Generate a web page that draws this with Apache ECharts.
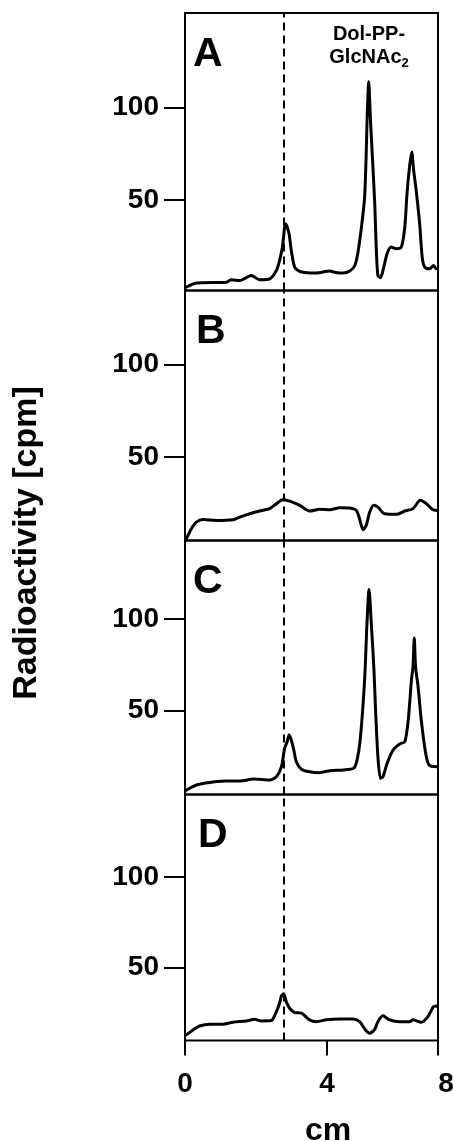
<!DOCTYPE html>
<html>
<head>
<meta charset="utf-8">
<title>Radioactivity scans</title>
<script src="https://cdn.jsdelivr.net/npm/echarts@6/dist/echarts.min.js"></script>
<style>
  html, body { margin: 0; padding: 0; background: #fff; }
  #chart { width: 453px; height: 1141px; }
</style>
</head>
<body>
<div id="chart"></div>
<script>
// Panel letters
const panels = ["A", "B", "C", "D"];

// Scan positions (cm, plot scale) and counts for each panel
const posA = [0, 0.04, 0.36, 1.31, 1.46, 1.73, 2.10, 2.36, 2.68, 2.89, 2.99, 3.08, 3.15, 3.18, 3.29, 3.36, 3.47, 3.63, 4.15, 4.58, 4.73, 5.0, 5.21, 5.37, 5.47, 5.58, 5.68, 5.73, 5.76, 5.81, 5.86, 5.92, 6.0, 6.05, 6.10, 6.18, 6.26, 6.39, 6.52, 6.68, 6.84, 6.95, 7.02, 7.10, 7.17, 7.23, 7.31, 7.42, 7.50, 7.58, 7.74, 7.86, 7.95, 8.0];
const cpmA = [2.5, 2.8, 5.0, 5.5, 6.8, 6.4, 9.1, 6.8, 7.3, 11.8, 17.2, 24.5, 35.3, 37.1, 31.7, 22.7, 13.6, 11.3, 10.4, 11.5, 10.9, 10.4, 11.5, 14.5, 21.7, 35.3, 51.5, 75, 94.8, 113.8, 94.8, 75, 47.9, 22.7, 9.1, 7.9, 11.8, 20.9, 24.5, 23.6, 24.5, 35.3, 53.4, 67.8, 75.9, 66, 55.1, 37.1, 19, 13.6, 12.7, 14.5, 12.7, 13];

const posB = [0, 0.04, 0.2, 0.36, 0.57, 0.99, 1.52, 1.73, 2.05, 2.36, 2.68, 2.89, 3.10, 3.31, 3.63, 3.94, 4.26, 4.58, 4.89, 5.21, 5.42, 5.52, 5.63, 5.73, 5.84, 5.97, 6.10, 6.31, 6.68, 6.95, 7.21, 7.44, 7.63, 7.84, 8.0];
const cpmB = [5, 5.5, 11, 14.6, 16, 15.5, 15.9, 17.3, 19.1, 20.6, 21.9, 24.6, 26.9, 26, 23.7, 20.6, 21.5, 21.3, 22.4, 22.2, 20.9, 16.4, 10.4, 12.8, 20, 23.7, 22.7, 19.1, 18.8, 20.6, 21.9, 26.4, 24.6, 21.3, 20.9];

const posC = [0, 0.04, 0.36, 0.78, 1.31, 1.83, 2.15, 2.68, 2.89, 3.05, 3.15, 3.23, 3.29, 3.36, 3.44, 3.52, 3.68, 3.94, 4.26, 4.58, 5.0, 5.33, 5.44, 5.54, 5.68, 5.75, 5.82, 5.89, 5.97, 6.03, 6.10, 6.18, 6.26, 6.39, 6.58, 6.79, 6.95, 7.06, 7.16, 7.21, 7.25, 7.29, 7.37, 7.47, 7.61, 7.72, 7.95, 8.0];
const cpmC = [6.3, 6.6, 9.4, 10.8, 11.5, 11.7, 12.6, 12.1, 13.9, 19.4, 29.4, 33, 36.7, 34, 28.5, 22.1, 18, 16.6, 16.1, 17.2, 17.6, 18.5, 23, 34, 66.8, 96, 116, 97.8, 74, 48.6, 24.8, 13, 13.9, 21.2, 28.5, 31.8, 33, 44.9, 66.8, 74, 89.6, 74, 63.1, 44.9, 26.7, 20.3, 19.4, 19.5];

const posD = [0, 0.04, 0.25, 0.46, 0.78, 1.20, 1.52, 1.94, 2.20, 2.41, 2.73, 2.89, 2.99, 3.05, 3.12, 3.20, 3.31, 3.47, 3.68, 3.94, 4.15, 4.47, 4.89, 5.31, 5.52, 5.71, 5.84, 6.00, 6.10, 6.26, 6.47, 6.79, 7.10, 7.21, 7.47, 7.68, 7.86, 8.0];
const cpmD = [12.5, 12.8, 15.5, 17.7, 18.7, 18.7, 19.8, 20.5, 21.4, 20.5, 20.7, 25.7, 30.3, 34.3, 35.5, 31.2, 27.5, 25.1, 24.8, 21.1, 20.1, 21.1, 21.5, 21.5, 20.1, 15.5, 13.7, 15.9, 20.1, 23.3, 21.1, 20.1, 20.1, 21.1, 19.8, 22.9, 28.4, 28.8];

// Axis ranges
const yMin = [1, 4.6, 4.2, 9.7];
const yMax = [151, 140.3, 142.8, 145.5];
const yTicks = [50, 100];
// x tick labels; the printed "4" sits right of the plot midpoint
const xTickPos = [0, 4.49, 8];
const xTickText = ["0", "4", "8"];
// position of the dashed marker line
const markerX = 3.12;

const FONT = '"Liberation Sans", Arial, sans-serif';

// panel boxes (px)
const boxes = [
  { top: 13, height: 277.5 },
  { top: 290.5, height: 250 },
  { top: 540.5, height: 254 },
  { top: 794.5, height: 246 },
];

const zip = (xs, ys) => xs.map((x, i) => [x, ys[i]]);
const seriesData = [zip(posA, cpmA), zip(posB, cpmB), zip(posC, cpmC), zip(posD, cpmD)];

const chart = echarts.init(document.getElementById("chart"), null, { renderer: "canvas" });

const grid = boxes.map((b) => ({
  left: 185,
  width: 253,
  top: b.top,
  height: b.height,
  // keep the boxes fixed, labels may hang outside
  outerBoundsMode: "none",
  containLabel: false,
  show: true,
  borderColor: "#000",
  borderWidth: 2,
  backgroundColor: "transparent",
}));

const xAxis = boxes.map((b, i) => {
  const last = i === boxes.length - 1;
  return {
    gridIndex: i,
    type: "value",
    min: 0,
    max: 8,
    splitLine: { show: false },
    axisLine: { show: false },
    axisTick: last
      ? { show: true, length: 15, customValues: xTickPos, lineStyle: { color: "#000", width: 2 } }
      : { show: false },
    axisLabel: last
      ? {
          show: true,
          customValues: xTickPos,
          margin: 30,
          color: "#000",
          fontFamily: FONT,
          fontWeight: "bold",
          fontSize: 28,
          formatter: (v) => {
            const k = xTickPos.indexOf(v);
            const t = k >= 0 ? xTickText[k] : "";
            return k === 2 ? "{r|" + t + "}" : t;
          },
          rich: { r: { padding: [0, 0, 0, 16], fontFamily: FONT, fontWeight: "bold", fontSize: 28, color: "#000" } },
        }
      : { show: false },
  };
});

const yAxis = boxes.map((b, i) => ({
  gridIndex: i,
  type: "value",
  min: yMin[i],
  max: yMax[i],
  splitLine: { show: false },
  axisLine: { show: false },
  axisTick: { show: true, length: 21, customValues: yTicks, lineStyle: { color: "#000", width: 2 } },
  axisLabel: {
    show: true,
    customValues: yTicks,
    margin: 26,
    color: "#000",
    fontFamily: FONT,
    fontWeight: "bold",
    fontSize: 28,
  },
}));

const series = seriesData.map((d, i) => ({
  type: "line",
  xAxisIndex: i,
  yAxisIndex: i,
  data: d,
  showSymbol: false,
  smooth: 0.25,
  lineStyle: { color: "#000", width: 3 },
  markLine: {
    silent: true,
    symbol: "none",
    label: { show: false },
    lineStyle: { color: "#000", width: 2, type: [8, 5] },
    data: [{ xAxis: markerX }],
  },
}));

// panel letters and the other text
const graphic = panels.map((p, i) => ({
  type: "text",
  left: 193 + (i === 3 ? 5 : i === 1 ? 3 : 0),
  top: boxes[i].top + 21,
  style: { text: p, fill: "#000", font: "bold 41px " + FONT },
}));

graphic.push({
  type: "text",
  x: 369,
  y: 23,
  style: {
    text: "{a|Dol-PP-}\n{a|GlcNAc}{s|2}",
    align: "center",
    fill: "#000",
    rich: {
      a: { font: "bold 20px " + FONT, lineHeight: 23, fill: "#000" },
      s: { font: "bold 13px " + FONT, lineHeight: 23, padding: [11, 0, 0, 0], fill: "#000" },
    },
  },
});

graphic.push({
  type: "text",
  x: 27,
  y: 543,
  rotation: Math.PI / 2,
  style: {
    text: "Radioactivity [cpm]",
    align: "center",
    verticalAlign: "middle",
    fill: "#000",
    font: "bold 34px " + FONT,
  },
});

graphic.push({
  type: "text",
  x: 328,
  y: 1131,
  style: {
    text: "cm",
    align: "center",
    verticalAlign: "middle",
    fill: "#000",
    font: "bold 32px " + FONT,
  },
});

chart.setOption({
  animation: false,
  grid: grid,
  xAxis: xAxis,
  yAxis: yAxis,
  series: series,
  graphic: graphic,
});
</script>
</body>
</html>
